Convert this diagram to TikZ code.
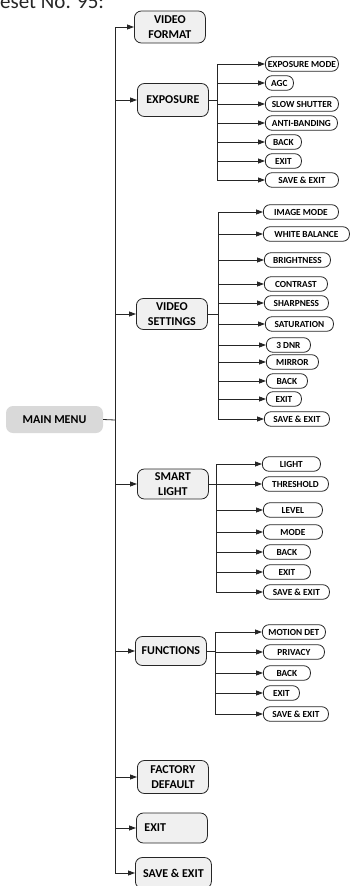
\documentclass[tikz,border=0pt]{standalone}
\usepackage{fontspec}
\setmainfont{Carlito}
\usetikzlibrary{positioning,arrows.meta}
\definecolor{MenuLine}{HTML}{262626}
\definecolor{MenuFill}{HTML}{F0F0F0}
\definecolor{MenuHead}{HTML}{D9D9D9}

\begin{document}
\begin{tikzpicture}[
    x=1pt,y=-1pt,
    mainbox/.style={draw=MenuLine,line width=0.8pt,rounded corners=7pt,fill=MenuFill,minimum width=71pt,minimum height=31pt,align=center,inner xsep=4pt,anchor=west,font=\fontsize{12}{15}\selectfont\bfseries},
    headbox/.style={fill=MenuHead,rounded corners=7pt,minimum width=97pt,minimum height=27pt,font=\fontsize{12}{15}\selectfont\bfseries},
    subbox/.style={draw=MenuLine,line width=0.8pt,rounded corners=6.5pt,fill=white,minimum width=#1,minimum height=14.5pt,inner xsep=2pt,inner ysep=0pt,anchor=west,font=\fontsize{9.3}{10}\selectfont\bfseries},
    subbox/.default=40pt,
    link/.style={line width=0.8pt,draw=MenuLine},
    arrow/.style={link,-{Triangle[length=7pt,width=5pt]}}
  ]
    \useasboundingbox (0,0) rectangle (349,886);
    \node[anchor=base west,inner sep=0pt,text=MenuLine,font=\fontsize{21}{24}\selectfont] (preset) at (-18,9) {Preset No. 95:};

    % main menu and its trunk
    \node[headbox] (menu) at (54.5,419.5) {MAIN MENU};
    \coordinate (trunk) at (115,420);
    \node[mainbox,minimum height=32pt] (vfmt) at (134,27) {VIDEO\\FORMAT};
    \node[mainbox,minimum height=33pt] (expo) at (137,100) {EXPOSURE};
    \node[mainbox] (vset) at (136,314) {VIDEO\\SETTINGS};
    \node[mainbox,minimum height=30pt] (slight) at (137,484) {SMART\\LIGHT};
    \node[mainbox,minimum height=29pt] (func) at (135,651) {FUNCTIONS};
    \node[mainbox,minimum height=33pt] (fdef) at (137,777) {FACTORY\\DEFAULT};
    \node[mainbox,minimum height=30pt,text width=55pt,align=left,inner xsep=8pt] (mexit) at (136,828) {EXIT};
    \node[mainbox,minimum width=76pt] (msave) at (135,873) {SAVE \& EXIT};
    \draw[link] (menu.east) -- (trunk);
    \draw[arrow] (trunk) |- (vfmt.west);
    \draw[arrow] (trunk) |- (expo.west);
    \draw[arrow] (trunk) |- (vset.west);
    \draw[arrow] (trunk) |- (slight.west);
    \draw[arrow] (trunk) |- (func.west);
    \draw[arrow] (trunk) |- (fdef.west);
    \draw[arrow] (trunk) |- (mexit.west);
    \draw[arrow] (trunk) |- (msave.west);

    % exposure
    \coordinate (expj) at (217,100);
    \node[subbox=73pt] (expmode) at (265,64) {EXPOSURE MODE};
    \node[subbox=28pt] (agc) at (265,83) {AGC};
    \node[subbox=73pt] (shutter) at (265,104) {SLOW SHUTTER};
    \node[subbox=72pt] (antiband) at (265,123) {ANTI-BANDING};
    \node[subbox=36pt] (expback) at (265,142) {BACK};
    \node[subbox=36pt] (expexit) at (265,161) {EXIT};
    \node[subbox=73pt] (expsave) at (265,180) {SAVE \& EXIT};
    \draw[link] (expo.east) -- (expj);
    \draw[arrow] (expj) |- (expmode.west);
    \draw[arrow] (expj) |- (agc.west);
    \draw[arrow] (expj) |- (shutter.west);
    \draw[arrow] (expj) |- (antiband.west);
    \draw[arrow] (expj) |- (expback.west);
    \draw[arrow] (expj) |- (expexit.west);
    \draw[arrow] (expj) |- (expsave.west);

    % video settings
    \coordinate (vsj) at (218,314);
    \node[subbox=75pt] (imgmode) at (263,212) {IMAGE MODE};
    \node[subbox=86pt] (wbal) at (263,234) {WHITE BALANCE};
    \node[subbox=66pt] (bright) at (264,260) {BRIGHTNESS};
    \node[subbox=63pt] (contrast) at (264,284) {CONTRAST};
    \node[subbox=64pt] (sharp) at (264,303) {SHARPNESS};
    \node[subbox=68pt] (satur) at (265,324) {SATURATION};
    \node[subbox=44pt] (dnr) at (266,345) {3 DNR};
    \node[subbox=52pt] (mirror) at (266,362) {MIRROR};
    \node[subbox=41pt] (vsback) at (266,381) {BACK};
    \node[subbox=35pt] (vsexit) at (266,399) {EXIT};
    \node[subbox=65pt] (vssave) at (264,419) {SAVE \& EXIT};
    \draw[link] (vset.east) -- (vsj);
    \draw[arrow] (vsj) |- (imgmode.west);
    \draw[arrow] (vsj) |- (wbal.west);
    \draw[arrow] (vsj) |- (bright.west);
    \draw[arrow] (vsj) |- (contrast.west);
    \draw[arrow] (vsj) |- (sharp.west);
    \draw[arrow] (vsj) |- (satur.west);
    \draw[arrow] (vsj) |- (dnr.west);
    \draw[arrow] (vsj) |- (mirror.west);
    \draw[arrow] (vsj) |- (vsback.west);
    \draw[arrow] (vsj) |- (vsexit.west);
    \draw[arrow] (vsj) |- (vssave.west);

    % smart light
    \coordinate (slj) at (216,484);
    \node[subbox=58pt] (light) at (262,464) {LIGHT};
    \node[subbox=66pt] (thresh) at (262,484) {THRESHOLD};
    \node[subbox=59pt] (level) at (263,510) {LEVEL};
    \node[subbox=59pt] (mode) at (263,532) {MODE};
    \node[subbox=47pt] (slback) at (263,552) {BACK};
    \node[subbox=47pt] (slexit) at (263,572) {EXIT};
    \node[subbox=66pt] (slsave) at (263,592) {SAVE \& EXIT};
    \draw[link] (slight.east) -- (slj);
    \draw[arrow] (slj) |- (light.west);
    \draw[arrow] (slj) |- (thresh.west);
    \draw[arrow] (slj) |- (level.west);
    \draw[arrow] (slj) |- (mode.west);
    \draw[arrow] (slj) |- (slback.west);
    \draw[arrow] (slj) |- (slexit.west);
    \draw[arrow] (slj) |- (slsave.west);

    % functions
    \coordinate (fnj) at (215,651);
    \node[subbox=63pt] (motion) at (262,632) {MOTION DET};
    \node[subbox=61pt] (privacy) at (263,652) {PRIVACY};
    \node[subbox=47pt] (fnback) at (263,673) {BACK};
    \node[subbox=36pt] (fnexit) at (263,693) {EXIT};
    \node[subbox=65pt] (fnsave) at (263,714) {SAVE \& EXIT};
    \draw[link] (func.east) -- (fnj);
    \draw[arrow] (fnj) |- (motion.west);
    \draw[arrow] (fnj) |- (privacy.west);
    \draw[arrow] (fnj) |- (fnback.west);
    \draw[arrow] (fnj) |- (fnexit.west);
    \draw[arrow] (fnj) |- (fnsave.west);
\end{tikzpicture}
\end{document}
